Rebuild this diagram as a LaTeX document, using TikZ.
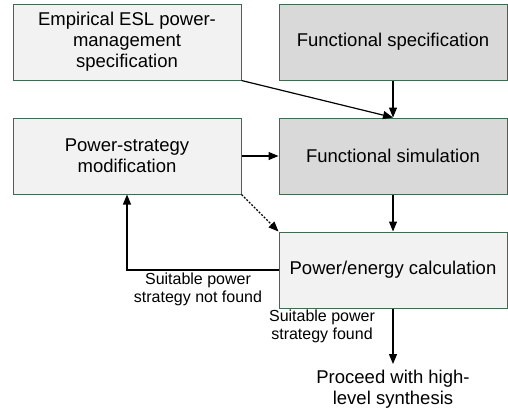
\documentclass[tikz,border=0pt]{standalone}
\usepackage{fontspec}
\setmainfont{Liberation Sans}
\usetikzlibrary{arrows.meta}
\definecolor{boxline}{HTML}{3E6B4E}
\definecolor{lightfill}{HTML}{F2F2F2}
\definecolor{darkfill}{HTML}{D9D9D9}
\tikzset{
  stagebox/.style={draw=boxline, line width=1pt, minimum width=228pt, minimum height=76pt,
    align=center, font=\fontsize{18.5}{21}\selectfont, inner sep=2pt},
  lightbox/.style={stagebox, fill=lightfill},
  darkbox/.style={stagebox, fill=darkfill},
  flow/.style={line width=1.2pt, -{Triangle[length=10pt,width=8pt]}},
  note/.style={align=center, font=\fontsize{16}{18}\selectfont, inner sep=0pt},
}
\begin{document}
\begin{tikzpicture}[x=1pt, y=-1pt]
\useasboundingbox (0,0) rectangle (508,413);
\node[lightbox] (esl)  at (127,42)  {Empirical ESL power-\\management\\specification};
\node[darkbox]  (fspec) at (393,42)  {Functional specification};
\node[lightbox] (mod)  at (127,156) {Power-strategy\\modification};
\node[darkbox]  (fsim) at (393,156) {Functional simulation};
\node[lightbox] (calc) at (393,270) {Power/energy calculation};
\node[align=center, font=\fontsize{18.5}{20.5}\selectfont, inner sep=0pt, anchor=north]
  (hls) at (393,370) {Proceed with high-\\level synthesis};
\node[note] (nf) at (198,289) {Suitable power\\strategy not found};
\node[note] (ok) at (322,326) {Suitable power\\strategy found};

\draw[flow] (esl.south east) -- (fsim.north);
\draw[flow] (fspec.south) -- (fsim.north);
\draw[flow] (mod.east) -- (fsim.west);
\draw[flow] (fsim.south) -- (calc.north);
\draw[flow, dash pattern=on 2pt off 1.5pt] (mod.south east) -- (calc.north west);
\draw[flow] (calc.west) -| (mod.south);
\draw[flow, shorten >=6pt] (calc.south) -- (hls.north);
\end{tikzpicture}
\end{document}
